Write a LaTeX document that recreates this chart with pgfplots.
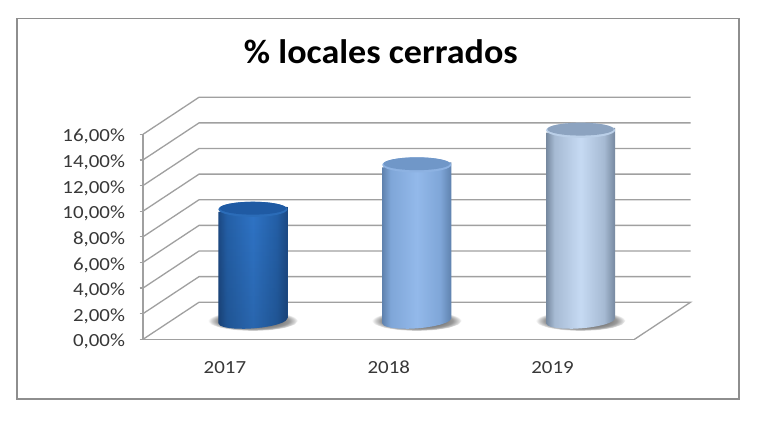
\documentclass[border=0pt]{standalone}
\usepackage{pgfplots}
\pgfplotsset{compat=1.18}
\usetikzlibrary{fadings}
\usepackage{fontspec}
\setmainfont{Carlito}
\newfontfamily\tickf[FakeStretch=1.13]{Carlito}
\newfontfamily\titlef[FakeStretch=1.06]{Carlito}
\definecolor{gridc}{HTML}{A0A0A0}
\definecolor{framec}{HTML}{8E8E8E}
\definecolor{axc}{HTML}{A0A0A0}
\definecolor{cA1}{HTML}{1D4A85}\definecolor{cA2}{HTML}{2460A8}\definecolor{cA3}{HTML}{2F74C6}
\definecolor{cB1}{HTML}{5F82AE}\definecolor{cB2}{HTML}{7FA6D8}\definecolor{cB3}{HTML}{93B9EA}
\definecolor{cC1}{HTML}{76889F}\definecolor{cC2}{HTML}{A6BAD3}\definecolor{cC3}{HTML}{C6DAF3}
\definecolor{tA}{HTML}{1F5AA3}\definecolor{tB}{HTML}{7097C8}\definecolor{tC}{HTML}{8CA3C0}
\definecolor{rA}{HTML}{2B6CB8}\definecolor{rB}{HTML}{8DB2E2}\definecolor{rC}{HTML}{BACFE8}
\pgfdeclarehorizontalshading{cylA}{100bp}{color(0bp)=(cA1);color(25bp)=(cA1);color(31bp)=(cA2);color(50bp)=(cA3);color(67bp)=(cA2);color(75bp)=(cA1);color(100bp)=(cA1)}
\pgfdeclarehorizontalshading{cylB}{100bp}{color(0bp)=(cB1);color(25bp)=(cB1);color(31bp)=(cB2);color(50bp)=(cB3);color(67bp)=(cB2);color(75bp)=(cB1);color(100bp)=(cB1)}
\pgfdeclarehorizontalshading{cylC}{100bp}{color(0bp)=(cC1);color(25bp)=(cC1);color(31bp)=(cC2);color(50bp)=(cC3);color(67bp)=(cC2);color(75bp)=(cC1);color(100bp)=(cC1)}
\pgfdeclareradialshading{shadow}{\pgfpointorigin}{color(0bp)=(black!55);color(15bp)=(black!52);color(20bp)=(black!40);color(23bp)=(black!18);color(25bp)=(white);color(50bp)=(white)}
\newcommand{\cylmarks}[3]{%
  \pgfdeclareplotmark{cap#1}{%
    \path[draw=none,fill=#3,cm={1,0.075,0,1,(0,0)}] (0pt,0pt) ellipse[x radius=34.5pt,y radius=7.6pt];
    \path[draw=none,fill=#2,cm={1,0.075,0,1,(0,0)}] (0pt,1.1pt) ellipse[x radius=33.2pt,y radius=6.4pt];
  }%
}
\cylmarks{A}{tA}{rA}
\cylmarks{B}{tB}{rB}
\cylmarks{C}{tC}{rC}
\newcommand{\shadowplot}[1]{%
\addplot[draw=none,shade,shading=shadow,xshift=#1,yshift=18.5pt] coordinates {(0.7747,0)(0.7538,0.304)(0.6942,0.561)(0.6052,0.733)(0.5,0.793)(0.3948,0.733)(0.3058,0.561)(0.2462,0.304)(0.2253,0)(0.2462,-0.304)(0.3058,-0.561)(0.3948,-0.733)(0.5,-0.793)(0.6052,-0.733)(0.6942,-0.561)(0.7538,-0.304)};}
\begin{document}
\begin{tikzpicture}[x=1pt,y=1pt]
\path[use as bounding box,fill=white] (0,0) rectangle (768,422);
\draw[framec,line width=1.4pt] (17,23) rectangle (739,403.3);
\begin{axis}[
  at={(143pt,82.7pt)},anchor=origin,
  scale only axis,width=491.5pt,height=205pt,
  xmin=0,xmax=3,ymin=0,ymax=16,clip=false,
  axis x line*=bottom,axis y line*=left,
  axis line style={axc,line width=1.2pt,-},
  xtick={0.5,1.5,2.5},xticklabels={2017,2018,2019},
  minor xtick={0,1,2,3},
  ytick={0,2,4,6,8,10,12,14,16},
  yticklabels={{0,00\%},{2,00\%},{4,00\%},{6,00\%},{8,00\%},{10,00\%},{12,00\%},{14,00\%},{16,00\%}},
  tick align=outside,
  major tick length=3.5pt,
  minor tick length=7pt,
  x tick style={draw=none},
  minor x tick style={axc,line width=1.2pt},
  y tick style={axc,line width=1.2pt},
  ticklabel style={font=\tickf\fontsize{18.5}{19}\selectfont,text=black!78},
  x tick label style={yshift=-15pt},
  y tick label style={xshift=-11pt,yshift=-2.5pt},
  title={\titlef\fontsize{34}{36}\selectfont\bfseries \% locales cerrados},
  title style={at={(0.484,1.372)},anchor=center,text=black},
]
% walls and gridlines: front edge to back wall at each value
\addplot[gridc,line width=1.3pt] coordinates {(0,0)(0.342,2.89)(3.342,2.89)(3,0)};
\addplot[gridc,line width=1.3pt] coordinates {(0,2)(0.342,4.89)(3.342,4.89)};
\addplot[gridc,line width=1.3pt] coordinates {(0,4)(0.342,6.89)(3.342,6.89)};
\addplot[gridc,line width=1.3pt] coordinates {(0,6)(0.342,8.89)(3.342,8.89)};
\addplot[gridc,line width=1.3pt] coordinates {(0,8)(0.342,10.89)(3.342,10.89)};
\addplot[gridc,line width=1.3pt] coordinates {(0,10)(0.342,12.89)(3.342,12.89)};
\addplot[gridc,line width=1.3pt] coordinates {(0,12)(0.342,14.89)(3.342,14.89)};
\addplot[gridc,line width=1.3pt] coordinates {(0,14)(0.342,16.89)(3.342,16.89)};
\addplot[gridc,line width=1.3pt] coordinates {(0,16)(0.342,18.89)(3.342,18.89)};
% shadows
\shadowplot{28pt}
\shadowplot{191.83pt}
\shadowplot{355.67pt}
% cylinders
\addplot[draw=none,shade,shading=cylA,xshift=28pt,yshift=18.5pt] coordinates {(0.2894,8.505)(0.7106,8.895)(0.7106,0.195)(0.7001,0)(0.679,-0.1472)(0.6474,-0.2876)(0.6053,-0.4169)(0.5527,-0.5262)(0.5,-0.594)(0.4473,-0.6238)(0.3947,-0.6119)(0.3526,-0.5606)(0.321,-0.4788)(0.2999,-0.3706)(0.2894,-0.195)};
\addplot[draw=none,fill=black,fill opacity=0.12,path fading=north,xshift=28pt,yshift=18.5pt] coordinates {(0.2894,8.505)(0.7106,8.895)(0.7106,0.195)(0.7001,0)(0.679,-0.1472)(0.6474,-0.2876)(0.6053,-0.4169)(0.5527,-0.5262)(0.5,-0.594)(0.4473,-0.6238)(0.3947,-0.6119)(0.3526,-0.5606)(0.321,-0.4788)(0.2999,-0.3706)(0.2894,-0.195)};
\addplot[only marks,mark=capA,xshift=28pt,yshift=18.5pt] coordinates {(0.5,8.7)};
\addplot[draw=none,shade,shading=cylB,xshift=28pt,yshift=18.5pt] coordinates {(1.2894,11.975)(1.7106,12.365)(1.7106,0.195)(1.7001,0)(1.679,-0.1472)(1.6474,-0.2876)(1.6053,-0.4169)(1.5527,-0.5262)(1.5,-0.594)(1.4473,-0.6238)(1.3947,-0.6119)(1.3526,-0.5606)(1.321,-0.4788)(1.2999,-0.3706)(1.2894,-0.195)};
\addplot[only marks,mark=capB,xshift=28pt,yshift=18.5pt] coordinates {(1.5,12.17)};
\addplot[draw=none,shade,shading=cylC,xshift=28pt,yshift=18.5pt] coordinates {(2.2894,14.675)(2.7106,15.065)(2.7106,0.195)(2.7001,0)(2.679,-0.1472)(2.6474,-0.2876)(2.6053,-0.4169)(2.5527,-0.5262)(2.5,-0.594)(2.4473,-0.6238)(2.3947,-0.6119)(2.3526,-0.5606)(2.321,-0.4788)(2.2999,-0.3706)(2.2894,-0.195)};
\addplot[only marks,mark=capC,xshift=28pt,yshift=18.5pt] coordinates {(2.5,14.87)};
\end{axis}
\end{tikzpicture}
\end{document}
